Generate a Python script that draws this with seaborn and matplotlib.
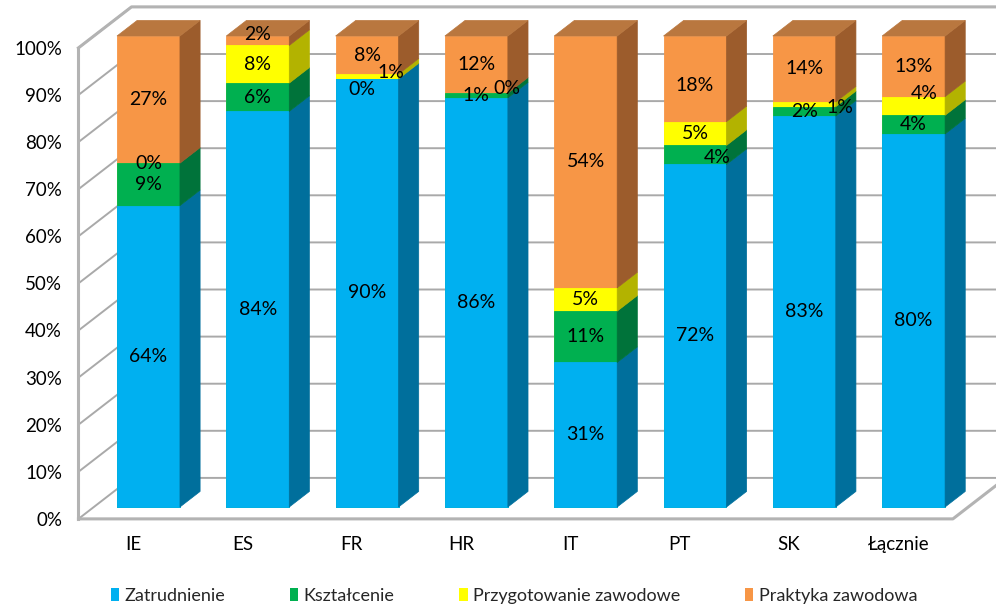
import numpy as np
import pandas as pd
import matplotlib
matplotlib.use("Agg")
import matplotlib.pyplot as plt
import seaborn as sns
from matplotlib.patches import Polygon, Patch

# ---------------- data ----------------
categories = ["IE", "ES", "FR", "HR", "IT", "PT", "SK", "Łącznie"]
series = ["Zatrudnienie", "Kształcenie", "Przygotowanie zawodowe", "Praktyka zawodowa"]
zatrudnienie = [64, 84, 90, 86, 31, 72, 83, 80]
ksztalcenie = [9, 6, 0, 1, 11, 4, 2, 4]
przygotowanie = [0, 8, 1, 0, 5, 5, 1, 4]
praktyka = [27, 2, 8, 12, 54, 18, 14, 13]
ytick_values = [0, 10, 20, 30, 40, 50, 60, 70, 80, 90, 100]

# ---------------- style ----------------
front_colors = ["#00B0F0", "#00B050", "#FFFF00", "#F79646"]
side_colors = ["#006F9C", "#00733A", "#B3B300", "#9C5C2C"]
top_colors = ["#0089BD", "#008C45", "#D4D400", "#B9773F"]
grid_color = "#A9A9A9"
wall_color = "#B3B3B3"

# 3D projection constants (data units per unit depth)
DX, DY = 0.485, 8.70
D_FRONT, D_BACK, D_BAR = -0.29, 0.71, 0.38
BAR_W = 0.576
Y_LOW = -3.0

# nudges for crowded labels (pixels: right, down)
nudges = {
    ("FR", 1): (-5, 11), ("FR", 2): (24, -4),
    ("HR", 2): (30, -5), ("SK", 2): (36, 3),
    ("Łącznie", 2): (11, -12), ("PT", 1): (22, 3),
    ("ES", 3): (0, -6), ("PT", 3): (0, 7),
}

sns.set_theme(style="white")
plt.rcParams["font.family"] = ["Lato", "DejaVu Sans"]


def proj(x, y, d):
    return (x + d * DX, y + d * DY)


values = np.array([zatrudnienie, ksztalcenie, przygotowanie, praktyka], dtype=float)
shares = values / values.sum(axis=0) * 100
cum = np.cumsum(shares, axis=0)

W, H = 996, 607
PX_PER_Y = 4.71
fig = plt.figure(figsize=(W / 100, H / 100), dpi=100)
ax_bottom_px = 507 - Y_LOW * PX_PER_Y
ax_h_px = (100 - Y_LOW) * PX_PER_Y
ax = fig.add_axes([82.9 / W, (H - ax_bottom_px) / H, 896.3 / W, ax_h_px / H])
for sp in ax.spines.values():
    sp.set_visible(False)

# ---------------- front faces (stacked via layered cumulative bars) ----------------
rows = []
for s, name in enumerate(series):
    for i, c in enumerate(categories):
        rows.append({"series": name, "category": c, "cum": cum[s, i]})
df = pd.DataFrame(rows)

bar_patches = None
for s in range(len(series) - 1, -1, -1):
    before = len(ax.patches)
    sns.barplot(data=df[df["series"] == series[s]], x="category", y="cum",
                order=categories, color=front_colors[s], saturation=1,
                width=BAR_W, errorbar=None, linewidth=0.6,
                edgecolor=front_colors[s], ax=ax, zorder=2)
    if bar_patches is None:
        bar_patches = ax.patches[before:]

# ---------------- axes ticks ----------------
ax.set_yticks([t + D_FRONT * DY for t in ytick_values],
              labels=[f"{t}%" for t in ytick_values])
ax.set_xticks(np.arange(len(categories)) + D_FRONT * DX, labels=categories)
ax.tick_params(axis="y", length=0, pad=15, labelsize=13.5, labelcolor="black")
ax.tick_params(axis="x", length=0, pad=11, labelsize=13.5, labelcolor="black")
ax.set_xlabel("")
ax.set_ylabel("")

# ---------------- walls & grid ----------------
for t in ytick_values:
    pts = [proj(-0.5, t, D_FRONT), proj(-0.5, t, D_BACK), proj(8.6, t, D_BACK)]
    ax.plot(*zip(*pts), color=grid_color, lw=1.4, clip_on=False, zorder=0.5,
            solid_capstyle="butt")
edges = [
    [proj(-0.5, 0, D_FRONT), proj(-0.5, 100, D_FRONT)],
    [proj(-0.5, 0, D_FRONT), proj(7.5, 0, D_FRONT), proj(7.5, 0, D_BACK)],
    [proj(-0.5, 100, D_FRONT), proj(-0.5, 100, D_BACK), proj(8.6, 100, D_BACK)],
]
for e in edges:
    ax.plot(*zip(*e), color=wall_color, lw=2.2, clip_on=False, zorder=0.6,
            solid_capstyle="projecting")
ax.set_xlim(-0.6, 7.6)
ax.set_ylim(Y_LOW, 100)

# ---------------- side & top faces ----------------
for i, p in enumerate(bar_patches):
    x0 = p.get_x()
    x1 = x0 + p.get_width()
    for s in range(len(series)):
        y0 = cum[s - 1, i] if s > 0 else 0.0
        y1 = cum[s, i]
        if y1 - y0 <= 0:
            continue
        side = [(x1, y0), (x1, y1), proj(x1, y1, D_BAR), proj(x1, y0, D_BAR)]
        ax.add_patch(Polygon(side, closed=True, facecolor=side_colors[s],
                             edgecolor=side_colors[s], lw=0.5, zorder=2,
                             clip_on=False))
    top_s = max(s for s in range(len(series)) if values[s, i] > 0)
    ytop = cum[-1, i]
    top = [(x0, ytop), (x1, ytop), proj(x1, ytop, D_BAR), proj(x0, ytop, D_BAR)]
    ax.add_patch(Polygon(top, closed=True, facecolor=top_colors[top_s],
                         edgecolor=top_colors[top_s], lw=0.5, zorder=2,
                         clip_on=False))
    # data labels
    for s in range(len(series)):
        y0 = cum[s - 1, i] if s > 0 else 0.0
        y1 = cum[s, i]
        dxp, dyp = nudges.get((categories[i], s), (0, 0))
        ax.annotate(f"{int(values[s, i])}%", xy=((x0 + x1) / 2, (y0 + y1) / 2),
                    xytext=(dxp * 0.72, -dyp * 0.72), textcoords="offset points",
                    ha="center", va="center", fontsize=14, color="black",
                    zorder=5, annotation_clip=False)

# ---------------- legend ----------------
handles = [Patch(facecolor=front_colors[s], edgecolor="none") for s in range(len(series))]
fig.legend(handles, series, loc="center", bbox_to_anchor=(514 / W, 1 - 596 / H),
           ncol=4, frameon=False, fontsize=13, handlelength=0.45,
           handleheight=0.75, handletextpad=0.3, columnspacing=3.6)

fig.savefig("out.png", dpi=100)
